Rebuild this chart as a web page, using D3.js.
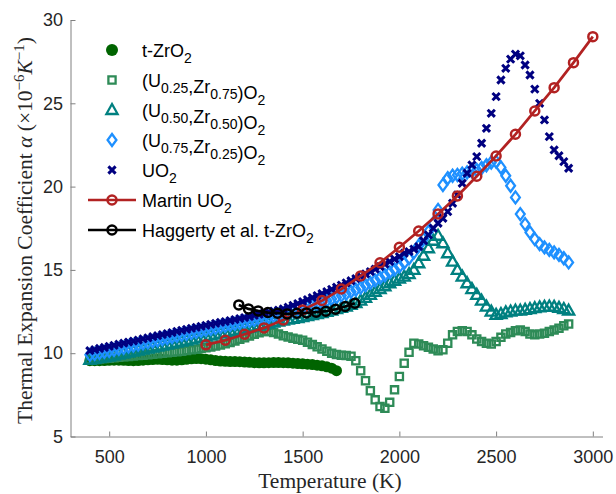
<!DOCTYPE html>
<html>
<head>
<meta charset="utf-8">
<script src="https://cdn.jsdelivr.net/npm/d3@7"></script>
<style>
  body { margin: 0; background: #fff; }
  svg { display: block; }
  text { font-family: "Liberation Sans", Arial, sans-serif; }
</style>
</head>
<body>
<div id="chart"></div>
<script>
// temperature grid (K) shared by the measured series
const tempGrid = [
  400, 425, 450, 475, 500, 525, 550, 575, 600, 625,
  650, 675, 700, 725, 750, 775, 800, 825, 850, 875,
  900, 925, 950, 975, 1000, 1025, 1050, 1075, 1100, 1125,
  1150, 1175, 1200, 1225, 1250, 1275, 1300, 1325, 1350, 1375,
  1400, 1425, 1450, 1475, 1500, 1525, 1550, 1575, 1600, 1625,
  1650, 1675, 1700, 1725, 1750, 1775, 1800, 1825, 1850, 1875,
  1900, 1925, 1950, 1975, 2000, 2025, 2050, 2075, 2100, 2125,
  2150, 2175, 2200, 2225, 2250, 2275, 2300, 2325, 2350, 2375,
  2400, 2425, 2450, 2475, 2500, 2525, 2550, 2575, 2600, 2625,
  2650, 2675, 2700, 2725, 2750, 2775, 2800, 2825, 2850, 2875
];

// t-ZrO2, 400 - 1675 K
const tZrO2 = [
  9.55, 9.55, 9.55, 9.56, 9.57, 9.58, 9.58, 9.57, 9.56, 9.55,
  9.56, 9.58, 9.60, 9.62, 9.63, 9.62, 9.60, 9.58, 9.58, 9.60,
  9.63, 9.66, 9.68, 9.67, 9.64, 9.60, 9.56, 9.53, 9.51, 9.50,
  9.50, 9.49, 9.47, 9.45, 9.43, 9.42, 9.42, 9.43, 9.44, 9.44,
  9.43, 9.42, 9.40, 9.38, 9.36, 9.34, 9.32, 9.28, 9.24, 9.18,
  9.10, 8.95
];

// (U0.25,Zr0.75)O2
const u25 = [
  9.60, 9.62, 9.65, 9.68, 9.70, 9.72, 9.75, 9.78, 9.80, 9.83,
  9.86, 9.88, 9.91, 9.94, 9.97, 10.00, 10.03, 10.06, 10.09, 10.12,
  10.16, 10.20, 10.24, 10.28, 10.32, 10.37, 10.43, 10.49, 10.56, 10.64,
  10.73, 10.83, 10.93, 11.03, 11.13, 11.22, 11.30, 11.30, 11.25, 11.15,
  11.05, 10.97, 10.90, 10.84, 10.78, 10.66, 10.52, 10.38, 10.25, 10.12,
  10.00, 9.92, 9.88, 9.86, 9.82, 9.55, 8.95, 8.35, 7.75, 7.20,
  6.80, 6.70, 7.05, 7.80, 8.60, 9.40, 10.05, 10.60, 10.55, 10.45,
  10.35, 10.25, 10.15, 10.20, 10.60, 11.10, 11.30, 11.35, 11.30, 11.10,
  10.85, 10.70, 10.60, 10.55, 10.70, 10.95, 11.15, 11.25, 11.35, 11.40,
  11.30, 11.15, 11.10, 11.15, 11.20, 11.30, 11.40, 11.50, 11.65, 11.75
];

// (U0.50,Zr0.50)O2
const u50 = [
  9.60, 9.65, 9.70, 9.75, 9.80, 9.86, 9.92, 9.98, 10.04, 10.10,
  10.16, 10.22, 10.28, 10.34, 10.40, 10.46, 10.52, 10.58, 10.64, 10.70,
  10.76, 10.82, 10.88, 10.94, 11.00, 11.06, 11.12, 11.18, 11.24, 11.30,
  11.36, 11.42, 11.48, 11.54, 11.60, 11.66, 11.72, 11.78, 11.84, 11.90,
  11.96, 12.01, 12.06, 12.11, 12.16, 12.22, 12.28, 12.34, 12.40, 12.48,
  12.56, 12.64, 12.72, 12.80, 12.90, 13.00, 13.15, 13.32, 13.50, 13.68,
  13.85, 14.02, 14.20, 14.35, 14.48, 14.60, 14.75, 15.00, 15.40, 15.85,
  16.30, 16.75, 17.05, 16.60, 16.00, 15.50, 15.00, 14.60, 14.20, 13.85,
  13.50, 13.15, 12.80, 12.50, 12.30, 12.35, 12.45, 12.50, 12.55, 12.55,
  12.60, 12.65, 12.70, 12.75, 12.78, 12.80, 12.78, 12.72, 12.65, 12.55
];

// (U0.75,Zr0.25)O2
const u75 = [
  9.90, 9.96, 10.02, 10.08, 10.14, 10.20, 10.27, 10.33, 10.40, 10.46,
  10.52, 10.59, 10.65, 10.72, 10.78, 10.85, 10.91, 10.97, 11.04, 11.10,
  11.16, 11.22, 11.28, 11.34, 11.40, 11.46, 11.52, 11.58, 11.64, 11.70,
  11.76, 11.82, 11.88, 11.94, 12.00, 12.06, 12.12, 12.18, 12.24, 12.30,
  12.36, 12.45, 12.54, 12.63, 12.72, 12.80, 12.88, 12.97, 13.06, 13.15,
  13.25, 13.35, 13.46, 13.57, 13.69, 13.81, 13.94, 14.08, 14.22, 14.37,
  14.52, 14.68, 14.85, 15.02, 15.20, 15.42, 15.70, 16.05, 16.45, 16.85,
  17.30, 17.80, 18.60, 20.10, 20.50, 20.65, 20.70, 20.78, 20.85, 20.92,
  21.00, 21.12, 21.28, 21.45, 21.50, 21.15, 20.65, 20.05, 19.35, 18.35,
  17.75, 17.25, 16.85, 16.55, 16.35, 16.20, 16.05, 15.90, 15.70, 15.45
];

// UO2
const uo2 = [
  10.15, 10.21, 10.28, 10.34, 10.41, 10.47, 10.54, 10.60, 10.67, 10.73,
  10.79, 10.86, 10.92, 10.99, 11.05, 11.12, 11.18, 11.24, 11.31, 11.37,
  11.43, 11.49, 11.55, 11.61, 11.67, 11.73, 11.79, 11.85, 11.90, 11.96,
  12.02, 12.08, 12.14, 12.20, 12.27, 12.33, 12.40, 12.46, 12.53, 12.59,
  12.66, 12.76, 12.87, 12.98, 13.10, 13.22, 13.34, 13.46, 13.58, 13.70,
  13.83, 13.96, 14.09, 14.22, 14.35, 14.48, 14.62, 14.76, 14.90, 15.05,
  15.20, 15.35, 15.50, 15.65, 15.80, 16.00, 16.10, 16.25, 16.40, 16.75,
  17.10, 17.50, 17.80, 18.10, 18.50, 19.00, 19.50, 20.20, 20.80, 21.30,
  21.80, 22.60, 23.50, 24.40, 25.40, 26.40, 27.10, 27.65, 27.95, 27.85,
  27.30, 26.70, 25.85, 25.00, 24.00, 23.00, 22.20, 21.85, 21.50, 21.10
];

// Martin UO2 correlation
const martinT = [1000, 1100, 1200, 1300, 1400, 1500, 1600, 1700, 1800, 1900, 2000,
                 2100, 2200, 2300, 2400, 2500, 2600, 2700, 2800, 2900, 3000];
const martinA = [10.50, 10.78, 11.14, 11.52, 12.00, 12.60, 13.16, 13.85, 14.64, 15.43, 16.36,
                 17.33, 18.36, 19.44, 20.62, 21.84, 23.14, 24.54, 25.94, 27.44, 29.00];

// Haggerty et al. t-ZrO2
const haggT = [1170, 1220, 1270, 1320, 1370, 1420, 1470, 1520, 1570, 1620, 1670, 1720, 1770];
const haggA = [12.90, 12.66, 12.54, 12.44, 12.40, 12.36, 12.40, 12.42, 12.46, 12.52, 12.64, 12.80, 13.00];

const xTicks = [500, 1000, 1500, 2000, 2500, 3000];
const yTicks = [5, 10, 15, 20, 25, 30];

const width = 616;
const height = 494;

const svg = d3.select('#chart')
  .append('svg')
  .attr('width', width)
  .attr('height', height)
  .style('background', '#fff');

const x = d3.scaleLinear().domain([300, 3050]).range([70.5, 602.5]);
const y = d3.scaleLinear().domain([5, 30]).range([436.5, 20]);

// axes (inward ticks, no box)
const xAxis = svg.append('g')
  .attr('transform', `translate(0,${y(5)})`)
  .call(d3.axisBottom(x).tickValues(xTicks).tickFormat(d3.format('d'))
    .tickSizeInner(-5).tickSizeOuter(0).tickPadding(14));
const yAxis = svg.append('g')
  .attr('transform', `translate(${x(300)},0)`)
  .call(d3.axisLeft(y).tickValues(yTicks).tickFormat(d3.format('d'))
    .tickSizeInner(-5).tickSizeOuter(0).tickPadding(7.5));

[xAxis, yAxis].forEach(a => {
  a.select('.domain').attr('stroke', '#808080').attr('stroke-width', 1);
  a.selectAll('.tick line').attr('stroke', '#808080');
  a.selectAll('.tick text')
    .attr('fill', '#262626')
    .style('font-size', '18px')
    .style('font-family', '"Liberation Sans", Arial, sans-serif');
});

// marker shapes
const shapes = {
  square: 'M-3.6,-3.6H3.6V3.6H-3.6Z',
  triangle: 'M0,-6L5.6,4H-5.6Z',
  diamond: 'M0,-6L4.4,0L0,6L-4.4,0Z',
  cross: 'M-3.6,-3.6L3.6,3.6M-3.6,3.6L3.6,-3.6'
};

const series = [
  { name: 'tzr', vals: tZrO2, color: '#006400', shape: 'dot' },
  { name: 'u25', vals: u25, color: '#2E8B57', shape: 'square', sw: 2.3 },
  { name: 'u50', vals: u50, color: '#008080', shape: 'triangle', sw: 2.3 },
  { name: 'u75', vals: u75, color: '#1E90FF', shape: 'diamond', sw: 2.3 },
  { name: 'uo2', vals: uo2, color: '#000080', shape: 'cross', sw: 3 }
];

series.forEach(s => {
  const pts = s.vals.map((v, i) => ({ t: tempGrid[i], a: v }));
  const g = svg.append('g').attr('class', s.name);
  if (s.shape === 'dot') {
    g.selectAll('circle')
      .data(pts)
      .join('circle')
      .attr('cx', d => x(d.t))
      .attr('cy', d => y(d.a))
      .attr('r', 5.5)
      .attr('fill', s.color);
  } else {
    g.selectAll('path')
      .data(pts)
      .join('path')
      .attr('transform', d => `translate(${x(d.t)},${y(d.a)})`)
      .attr('d', shapes[s.shape])
      .attr('fill', 'none')
      .attr('stroke', s.color)
      .attr('stroke-width', s.sw);
  }
});

// reference lines with open circles
function lineWithCircles(ts, as, color, cls) {
  const pts = ts.map((t, i) => ({ t, a: as[i] }));
  const g = svg.append('g').attr('class', cls);
  g.append('path')
    .datum(pts)
    .attr('d', d3.line().x(d => x(d.t)).y(d => y(d.a)))
    .attr('fill', 'none')
    .attr('stroke', color)
    .attr('stroke-width', 2.7);
  g.selectAll('circle')
    .data(pts)
    .join('circle')
    .attr('cx', d => x(d.t))
    .attr('cy', d => y(d.a))
    .attr('r', 4.5)
    .attr('fill', 'none')
    .attr('stroke', color)
    .attr('stroke-width', 2.5);
}
lineWithCircles(martinT, martinA, '#B22222', 'martin');
lineWithCircles(haggT, haggA, '#000000', 'haggerty');

// legend
const legendItems = [
  { shape: 'dot', color: '#006400', label: [['t-ZrO'], ['2', 'sub']] },
  { shape: 'square', color: '#2E8B57', sw: 2.3, label: [['(U'], ['0.25', 'sub'], [',Zr'], ['0.75', 'sub'], [')O'], ['2', 'sub']] },
  { shape: 'triangle', color: '#008080', sw: 2.3, label: [['(U'], ['0.50', 'sub'], [',Zr'], ['0.50', 'sub'], [')O'], ['2', 'sub']] },
  { shape: 'diamond', color: '#1E90FF', sw: 2.3, label: [['(U'], ['0.75', 'sub'], [',Zr'], ['0.25', 'sub'], [')O'], ['2', 'sub']] },
  { shape: 'cross', color: '#000080', sw: 3, label: [['UO'], ['2', 'sub']] },
  { shape: 'line', color: '#B22222', label: [['Martin UO'], ['2', 'sub']] },
  { shape: 'line', color: '#000000', label: [['Haggerty et al. t-ZrO'], ['2', 'sub']] }
];

const legend = svg.append('g').attr('class', 'legend');
legendItems.forEach((it, i) => {
  const cy = 50 + i * 30;
  const row = legend.append('g').attr('transform', `translate(0,${cy})`);
  if (it.shape === 'dot') {
    row.append('circle').attr('cx', 112).attr('cy', 0).attr('r', 6).attr('fill', it.color);
  } else if (it.shape === 'line') {
    row.append('line').attr('x1', 88).attr('x2', 136).attr('y1', 0).attr('y2', 0)
      .attr('stroke', it.color).attr('stroke-width', 2.7);
    row.append('circle').attr('cx', 112).attr('cy', 0).attr('r', 4.5)
      .attr('fill', 'none').attr('stroke', it.color).attr('stroke-width', 2.5);
  } else {
    row.append('path').attr('transform', 'translate(112,0)').attr('d', shapes[it.shape])
      .attr('fill', 'none').attr('stroke', it.color).attr('stroke-width', it.sw);
  }
  const txt = row.append('text').attr('x', 142).attr('y', 6.5)
    .attr('fill', '#000').style('font-size', '18px');
  it.label.forEach(([s, kind]) => {
    if (kind === 'sub') {
      txt.append('tspan').attr('dy', 6).style('font-size', '14px').text(s);
      txt.append('tspan').attr('dy', -6).text('');
    } else {
      txt.append('tspan').text(s);
    }
  });
});

// axis titles (serif, like LaTeX)
const serif = '"Liberation Serif", "Times New Roman", serif';
svg.append('text')
  .attr('x', 330)
  .attr('y', 488)
  .attr('text-anchor', 'middle')
  .style('font-family', serif)
  .style('font-size', '21.5px')
  .attr('fill', '#262626')
  .text('Temperature (K)');

const yl = svg.append('text')
  .attr('transform', 'translate(32,230.5) rotate(-90)')
  .attr('text-anchor', 'middle')
  .style('font-family', serif)
  .style('font-size', '21.5px')
  .attr('fill', '#262626');
yl.append('tspan').text('Thermal Expansion Coefficient ');
yl.append('tspan').style('font-style', 'italic').text('α');
yl.append('tspan').text(' (×10');
yl.append('tspan').attr('dy', -8).style('font-size', '15px').text('−6');
yl.append('tspan').attr('dy', 8).style('font-style', 'italic').text('K');
yl.append('tspan').attr('dy', -8).style('font-size', '15px').text('−1');
yl.append('tspan').attr('dy', 8).text(')');
</script>
</body>
</html>
